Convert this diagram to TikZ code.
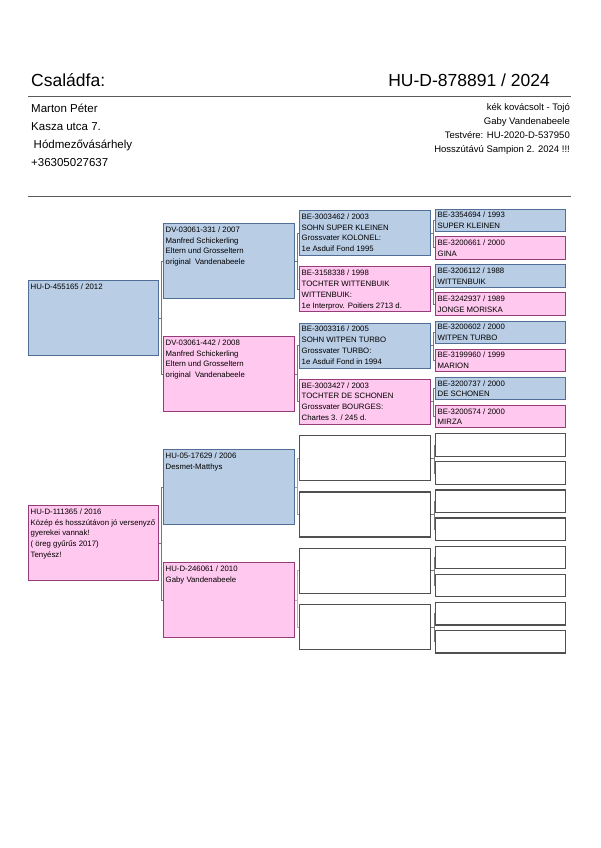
\documentclass[tikz,border=0pt]{standalone}
\usepackage{fontspec}
\setmainfont{Liberation Sans}
\usepackage{tikz}
\usepackage{xcolor}

\definecolor{sirefill}{RGB}{185,205,229}
\definecolor{sireline}{RGB}{80,110,150}
\definecolor{damfill}{RGB}{255,200,238}
\definecolor{damline}{RGB}{150,60,120}
\definecolor{blankline}{RGB}{80,80,80}
\definecolor{linkgray}{RGB}{120,120,120}
\definecolor{rulegray}{RGB}{90,90,90}

\begin{document}
\begin{tikzpicture}[
      x=1pt, y=-1pt,
      every node/.style = {inner sep=0pt},
      title/.style = {font=\fontsize{17.5}{21}\selectfont},
      owner/.style = {align=left, font=\fontsize{11.5}{18}\selectfont},
      remark/.style = {align=right, font=\fontsize{9.5}{14}\selectfont},
      cell/.style = {shape=rectangle, anchor=north west, line width=0.9pt},
      sire/.style = {cell, draw=sireline, fill=sirefill},
      dam/.style = {cell, draw=damline, fill=damfill},
      blank/.style = {cell, draw=blankline, fill=white, line width=1.3pt},
      parent/.style = {minimum width=130, minimum height=75},
      grand/.style = {minimum width=131, minimum height=75},
      great/.style = {minimum width=131, minimum height=45},
      greatgreat/.style = {minimum width=130, minimum height=22.5},
      info/.style = {label={[anchor=north west, align=left, inner xsep=2.5pt, inner ysep=3.5pt,
                      font=\fontsize{7.8}{10.8}\selectfont]north west:{#1}}},
      link/.style = {draw=linkgray, line width=0.6pt},
      rule/.style = {draw=rulegray, line width=0.9pt}
    ]
      \useasboundingbox (0,0) rectangle (600,848);

      % header
      \node[title, anchor=west] (head) at (31,80) {Családfa:};
      \node[title, anchor=east] (ring) at (550,80) {HU-D-878891 / 2024};
      \draw[rule] (28,96) -- (571,96);
      \node[owner, anchor=north west] (owner) at (31,104)
        {Marton Péter\\Kasza utca 7.\\\hspace{2.5pt}Hódmezővásárhely\\+36305027637};
      \node[remark, anchor=north east] (remark) at (570,103.5)
        {kék kovácsolt - Tojó\\Gaby Vandenabeele\\Testvére: HU-2020-D-537950\\Hosszútávú Sampion 2. 2024 !!!};
      \draw[rule] (28,196) -- (571,196);

      % parents
      \node[sire, parent, info={HU-D-455165 / 2012}] (s) at (28,280) {};
      \node[dam, parent, info={HU-D-111365 / 2016\\Közép és hosszútávon jó versenyző\\gyerekei vannak!\\( öreg gyűrűs 2017)\\Tenyész!}] (d) at (28,505) {};

      % grandparents
      \node[sire, grand, info={DV-03061-331 / 2007\\Manfred Schickerling\\Eltern und Grosseltern\\original\ \ Vandenabeele}] (ss) at (163,223) {};
      \node[dam, grand, info={DV-03061-442 / 2008\\Manfred Schickerling\\Eltern und Grosseltern\\original\ \ Vandenabeele}] (sd) at (163,336) {};
      \node[sire, grand, info={HU-05-17629 / 2006\\Desmet-Matthys}] (ds) at (163,449) {};
      \node[dam, grand, info={HU-D-246061 / 2010\\Gaby Vandenabeele}] (dd) at (163,562) {};

      % great-grandparents
      \node[sire, great, info={BE-3003462 / 2003\\SOHN SUPER KLEINEN\\Grossvater KOLONEL:\\1e Asduif Fond 1995}] (sss) at (299,210) {};
      \node[dam, great, info={BE-3158338 / 1998\\TOCHTER WITTENBUIK\\WITTENBUIK:\\1e Interprov. Poitiers 2713 d.}] (ssd) at (299,266.3) {};
      \node[sire, great, info={BE-3003316 / 2005\\SOHN WITPEN TURBO\\Grossvater TURBO:\\1e Asduif Fond in 1994}] (sds) at (299,322.5) {};
      \node[dam, great, info={BE-3003427 / 2003\\TOCHTER DE SCHONEN\\Grossvater BOURGES:\\Chartes 3. / 245 d.}] (sdd) at (299,378.8) {};
      \node[blank, great] (dss) at (299,435) {};
      \node[blank, great] (dsd) at (299,491.3) {};
      \node[blank, great] (dds) at (299,547.5) {};
      \node[blank, great] (ddd) at (299,603.8) {};

      % great-great-grandparents
      \node[sire, greatgreat, info={BE-3354694 / 1993\\SUPER KLEINEN}] (ssss) at (435,208.5) {};
      \node[dam, greatgreat, info={BE-3200661 / 2000\\GINA}] (sssd) at (435,236) {};
      \node[sire, greatgreat, info={BE-3206112 / 1988\\WITTENBUIK}] (ssds) at (435,264.3) {};
      \node[dam, greatgreat, info={BE-3242937 / 1989\\JONGE MORISKA}] (ssdd) at (435,292.3) {};
      \node[sire, greatgreat, info={BE-3200602 / 2000\\WITPEN TURBO}] (sdss) at (435,320.5) {};
      \node[dam, greatgreat, info={BE-3199960 / 1999\\MARION}] (sdsd) at (435,348.5) {};
      \node[sire, greatgreat, info={BE-3200737 / 2000\\DE SCHONEN}] (sdds) at (435,376.8) {};
      \node[dam, greatgreat, info={BE-3200574 / 2000\\MIRZA}] (sddd) at (435,404.8) {};
      \node[blank, greatgreat] (dsss) at (435,433) {};
      \node[blank, greatgreat] (dssd) at (435,461) {};
      \node[blank, greatgreat] (dsds) at (435,489.3) {};
      \node[blank, greatgreat] (dsdd) at (435,517.3) {};
      \node[blank, greatgreat] (ddss) at (435,545.5) {};
      \node[blank, greatgreat] (ddsd) at (435,573.5) {};
      \node[blank, greatgreat] (ddds) at (435,601.8) {};
      \node[blank, greatgreat] (dddd) at (435,629.8) {};

      % brackets
      \draw[link] (s.east) -- ++(2.5,0) |- (ss.west) (s.east) ++(2.5,0) |- (sd.west);
      \draw[link] (d.east) -- ++(2.5,0) |- (ds.west) (d.east) ++(2.5,0) |- (dd.west);
      \draw[link] (ss.east) -- ++(2.5,0) |- (sss.west) (ss.east) ++(2.5,0) |- (ssd.west);
      \draw[link] (sd.east) -- ++(2.5,0) |- (sds.west) (sd.east) ++(2.5,0) |- (sdd.west);
      \draw[link, draw=sirefill!80!black] (ds.east) -- ++(2.5,0) |- (dss.west) (ds.east) ++(2.5,0) |- (dsd.west);
      \draw[link, draw=damfill!80!black] (dd.east) -- ++(2.5,0) |- (dds.west) (dd.east) ++(2.5,0) |- (ddd.west);
      \draw[link] (sss.east) -- ++(2.5,0) |- (ssss.west) (sss.east) ++(2.5,0) |- (sssd.west);
      \draw[link] (ssd.east) -- ++(2.5,0) |- (ssds.west) (ssd.east) ++(2.5,0) |- (ssdd.west);
      \draw[link] (sds.east) -- ++(2.5,0) |- (sdss.west) (sds.east) ++(2.5,0) |- (sdsd.west);
      \draw[link] (sdd.east) -- ++(2.5,0) |- (sdds.west) (sdd.east) ++(2.5,0) |- (sddd.west);
      \draw[link] (dss.east) -- ++(2.5,0) |- (dsss.west) (dss.east) ++(2.5,0) |- (dssd.west);
      \draw[link] (dsd.east) -- ++(2.5,0) |- (dsds.west) (dsd.east) ++(2.5,0) |- (dsdd.west);
      \draw[link] (dds.east) -- ++(2.5,0) |- (ddss.west) (dds.east) ++(2.5,0) |- (ddsd.west);
      \draw[link] (ddd.east) -- ++(2.5,0) |- (ddds.west) (ddd.east) ++(2.5,0) |- (dddd.west);
    \end{tikzpicture}
\end{document}
